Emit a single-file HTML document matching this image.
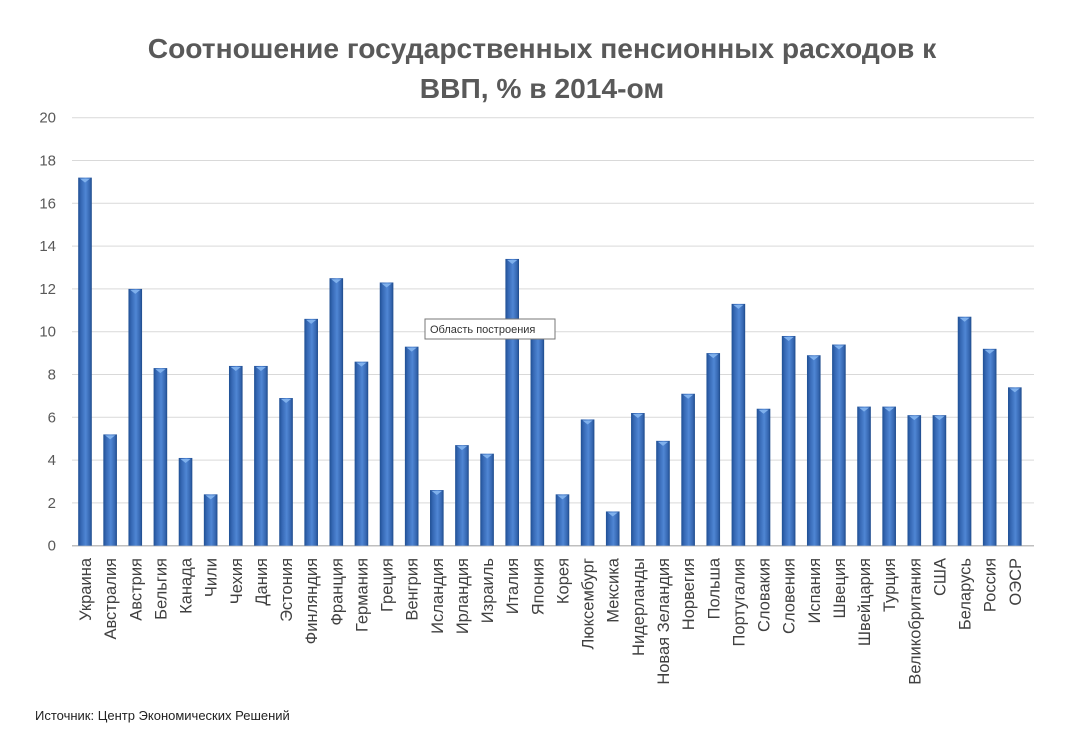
<!DOCTYPE html>
<html><head><meta charset="utf-8"><style>
html,body{margin:0;padding:0;background:#fff;width:1073px;height:741px;overflow:hidden}
svg{display:block;font-family:"Liberation Sans",sans-serif}
</style></head><body>
<svg id="c" width="1073" height="741" xmlns="http://www.w3.org/2000/svg">
<defs>
<linearGradient id="g" x1="0" x2="1" y1="0" y2="0">
<stop offset="0" stop-color="#1f4f93"/><stop offset="0.2" stop-color="#3567b3"/>
<stop offset="0.55" stop-color="#4f86d4"/><stop offset="0.85" stop-color="#3566b0"/>
<stop offset="1" stop-color="#1d4a8a"/></linearGradient>
</defs>
<text x="542" y="58" text-anchor="middle" font-size="28.2" font-weight="bold" fill="#595959">Соотношение государственных пенсионных расходов к</text>
<text x="542" y="98" text-anchor="middle" font-size="28.2" font-weight="bold" fill="#595959">ВВП, % в 2014-ом</text>
<g id="grid"></g><g id="bars"></g><g id="lab"></g>
<rect x="425" y="319" width="130" height="20" fill="#fff" stroke="#777" stroke-width="1"/>
<text x="430" y="333" font-size="11" fill="#333">Область построения</text>
<text x="35" y="720" font-size="13" fill="#222">Источник: Центр Экономических Решений</text>
</svg>
<script>
var names=["Украина","Австралия","Австрия","Бельгия","Канада","Чили","Чехия","Дания","Эстония","Финляндия","Франция","Германия","Греция","Венгрия","Исландия","Ирландия","Израиль","Италия","Япония","Корея","Люксембург","Мексика","Нидерланды","Новая Зеландия","Норвегия","Польша","Португалия","Словакия","Словения","Испания","Швеция","Швейцария","Турция","Великобритания","США","Беларусь","Россия","ОЭСР"];
var v=[17.2,5.2,12.0,8.3,4.1,2.4,8.4,8.4,6.9,10.6,12.5,8.6,12.3,9.3,2.6,4.7,4.3,13.4,10.0,2.4,5.9,1.6,6.2,4.9,7.1,9.0,11.3,6.4,9.8,8.9,9.4,6.5,6.5,6.1,6.1,10.7,9.2,7.4];
var NS="http://www.w3.org/2000/svg",y0=545.7,k=21.4;
function el(p,t,a,txt){var e=document.createElementNS(NS,t);for(var i in a)e.setAttribute(i,a[i]);if(txt)e.textContent=txt;document.getElementById(p).appendChild(e);}
for(var i=0;i<=10;i++){var y=y0-i*2*k;el("grid","line",{x1:72,x2:1034,y1:y,y2:y,stroke:i?"#d9d9d9":"#bfbfbf","stroke-width":i?1:1.5});
el("lab","text",{x:56,y:y+5,"text-anchor":"end","font-size":15,fill:"#595959"},String(i*2));}
for(var i=0;i<v.length;i++){var cx=85+i*25.13,h=v[i]*k;
el("bars","rect",{x:cx-6.8,y:y0-h,width:13.6,height:h,fill:"url(#g)"});
el("bars","polygon",{points:(cx-5)+","+(y0-h+1)+" "+(cx+5)+","+(y0-h+1)+" "+cx+","+(y0-h+5),fill:"#7fb0ec"});
el("lab","text",{x:0,y:0,transform:"translate("+(cx+6)+",558) rotate(-90)","text-anchor":"end","font-size":16.5,fill:"#404040"},names[i]);}
</script>
</body></html>
